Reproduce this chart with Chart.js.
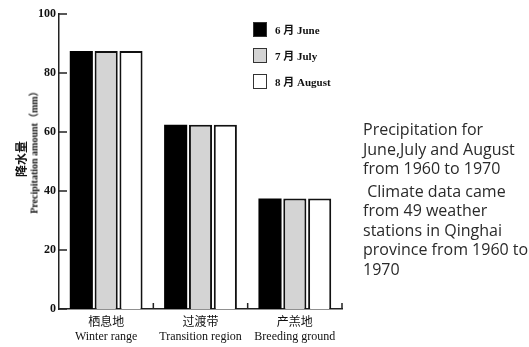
<!DOCTYPE html>
<html lang="en">
<head>
  <meta charset="UTF-8" />
  <title>Precipitation June-August</title>
  <script src="https://cdn.jsdelivr.net/npm/chart.js"></script>
  <style>
    body { margin: 0; background: #fff; width: 529px; height: 347px; position: relative; overflow: hidden; }
    #wrap { position: absolute; left: 0; top: 0; width: 350px; height: 347px; }
    #chart { filter: blur(0.4px); }
    .ytitle { position: absolute; white-space: nowrap; transform: translate(-50%, -50%) rotate(-90deg); color: #111; font-family: "Liberation Serif", "Noto Sans CJK SC", serif; font-weight: bold; filter: blur(0.3px); }
    #legend { position: absolute; left: 253px; top: 21px; font: bold 11px "Liberation Serif", "Noto Sans CJK SC", serif; color: #111; filter: blur(0.3px); }
    .item { display: flex; align-items: center; height: 16px; margin-bottom: 10px; }
    .box { width: 12px; height: 13px; border: 1.5px solid #333; margin-right: 8px; }
    #note { position: absolute; left: 363px; top: 120px; font: 16px "Open Sans", sans-serif; color: #2a2a2a; line-height: 19.5px; filter: blur(0.3px); }
    #note p { margin: 0 0 3px 0; }
  </style>
</head>
<body>
  <div id="wrap"><canvas id="chart" width="350" height="347"></canvas></div>
  <div class="ytitle" style="left:21px; top:159px; font-size:12px;">降水量</div>
  <div class="ytitle" style="left:33px; top:150px; font-size:10px;">Precipitation amount（mm）</div>
  <div id="legend"></div>
  <div id="note">
    <p>Precipitation for<br>June,July and August<br>from 1960 to 1970</p>
    <p>&nbsp;Climate data came<br>from 49 weather<br>stations in Qinghai<br>province from 1960 to<br>1970</p>
  </div>
<script>
  // regions (Chinese / English)
  const regions = [["栖息地", "Winter range"], ["过渡带", "Transition region"], ["产羔地", "Breeding ground"]];
  // monthly precipitation, mm
  const june = [87.5, 62.5, 37.5];
  const july = [87.5, 62.5, 37.5];
  const august = [87.5, 62.5, 37.5];
  const monthNames = ["6 月 June", "7 月 July", "8 月 August"];
  const yTicks = [0, 20, 40, 60, 80, 100];

  const fills = ["#000000", "#d4d4d4", "#ffffff"];
  const serif = "'Liberation Serif', 'Noto Sans CJK SC', serif";

  // short inward ticks on both axes
  const innerTicks = {
    id: "innerTicks",
    afterDraw(chart) {
      const { ctx, scales: { x, y } } = chart;
      ctx.save();
      ctx.strokeStyle = "#222";
      ctx.lineWidth = 1.5;
      ctx.beginPath();
      yTicks.forEach(v => {
        const py = y.getPixelForValue(v);
        ctx.moveTo(x.left, py);
        ctx.lineTo(x.left + 8, py);
      });
      for (let i = 1; i <= regions.length; i++) {
        const px = x.getPixelForValue(i - 0.5);
        ctx.moveTo(px, y.bottom);
        ctx.lineTo(px, y.bottom - 6);
      }
      ctx.stroke();
      ctx.restore();
    }
  };

  new Chart(document.getElementById("chart"), {
    type: "bar",
    data: {
      labels: regions,
      datasets: [june, july, august].map((d, i) => ({
        label: monthNames[i],
        data: d,
        backgroundColor: fills[i],
        borderColor: "#111",
        borderWidth: i === 0 ? 0 : 2,
        categoryPercentage: 0.79,
        barPercentage: 0.93
      }))
    },
    options: {
      responsive: false,
      animation: false,
      layout: { padding: { top: 14, right: 8, left: 0, bottom: 0 } },
      plugins: { legend: { display: false }, tooltip: { enabled: false } },
      scales: {
        x: {
          grid: { display: false, drawTicks: false },
          border: { display: true, color: "#222", width: 1.5 },
          ticks: { color: "#111", font: { family: serif, size: 12, lineHeight: 1.15 }, padding: 7, maxRotation: 0 },
          afterFit(s) { s.height = 38; }
        },
        y: {
          min: 0, max: 100,
          grid: { display: false, drawTicks: false },
          border: { display: true, color: "#222", width: 1.5 },
          ticks: { stepSize: 20, color: "#111", font: { family: serif, size: 12, weight: "bold" }, padding: 3 },
          afterFit(s) { s.width = 59; }
        }
      }
    },
    plugins: [innerTicks]
  });

  // legend
  const legend = document.getElementById("legend");
  monthNames.forEach((m, i) => {
    const row = document.createElement("div");
    row.className = "item";
    row.innerHTML = `<span class="box" style="background:${fills[i]}"></span><span>${m}</span>`;
    legend.appendChild(row);
  });
</script>
</body>
</html>
